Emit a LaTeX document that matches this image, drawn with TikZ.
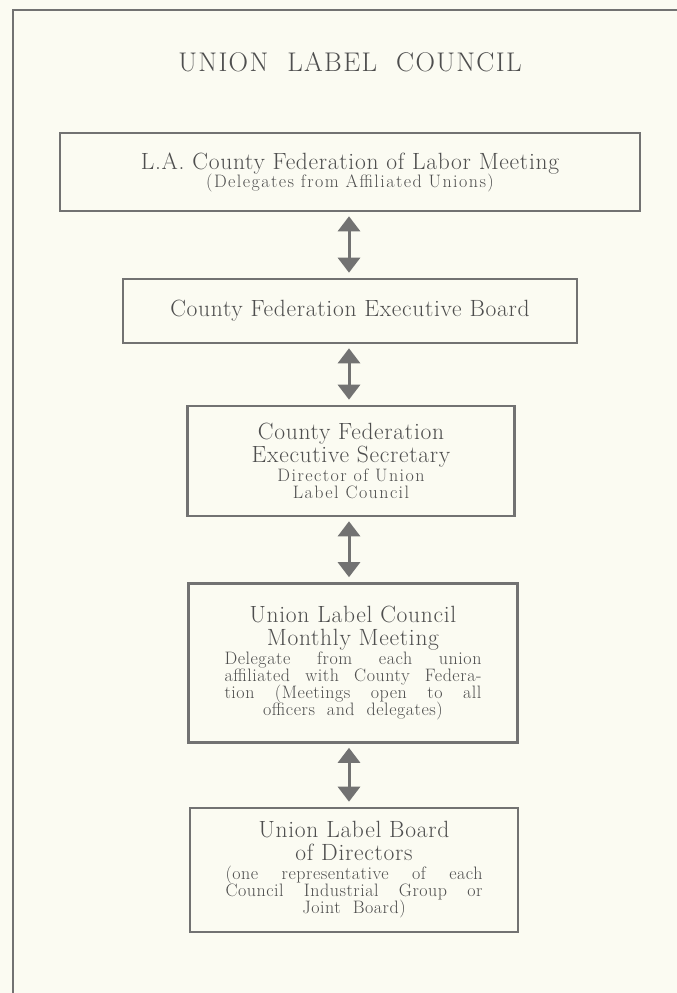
\documentclass[tikz,border=0pt]{standalone}
\usepackage{fontspec}
\setmainfont{Latin Modern Roman}
\usetikzlibrary{arrows.meta}
\definecolor{paper}{HTML}{FBFBF2}
\definecolor{linegray}{HTML}{727272}
\definecolor{inkgray}{HTML}{4E4E4E}
\newcommand{\bigline}{\fontsize{23.5}{23}\selectfont\addfontfeature{LetterSpace=3}}
\newcommand{\smallline}{\fontsize{18}{17}\selectfont\addfontfeature{LetterSpace=3}}
\newcommand{\smallwide}{\fontsize{18}{17}\selectfont\addfontfeature{LetterSpace=8}}
\newcommand{\fullline}[1]{\makebox[257pt][s]{#1}}
\begin{document}
\begin{tikzpicture}[x=1pt,y=-1pt]
            \tikzset{
                unitbox/.style={draw=linegray,line width=2.6pt,inner sep=0pt,align=center,text=inkgray,
                    font={\fontsize{16}{17}\selectfont\lineskiplimit=-40pt}},
                twoway/.style={linegray,line width=3pt,{Triangle[width=22pt,length=15pt]}-{Triangle[width=22pt,length=15pt]},
                    shorten <=4pt,shorten >=5pt},}
            \fill[paper] (0,0) rectangle (677,993);
            \useasboundingbox (0,0) rectangle (677,993);
            \draw[linegray,line width=2.6pt] (13,995) -- (13,10) -- (680,10);
            \node[text=inkgray,font={\fontsize{27}{28}\selectfont\addfontfeature{LetterSpace=5}}] (title) at (350,62) {UNION\ \ LABEL\ \ COUNCIL};
            % the five bodies, top to bottom
            \node[unitbox,minimum width=580pt,minimum height=78pt] (fedmeeting) at (350,172)
                {\bigline L.A. County Federation of Labor Meeting\\[1pt]
                 \smallwide (Delegates from Affiliated Unions)};
            \node[unitbox,minimum width=454pt,minimum height=64pt] (execboard) at (350,311)
                {\bigline County Federation Executive Board};
            \node[unitbox,minimum width=327pt,minimum height=110pt] (secretary) at (351,461)
                {\bigline County Federation\\[6pt]
                 \bigline Executive Secretary\\[2pt]
                 \smallwide Director of Union\\
                 \smallwide Label Council};
            \node[unitbox,minimum width=329pt,minimum height=159pt] (monthly) at (353,663)
                {\bigline Union Label Council\\[6pt]
                 \bigline Monthly Meeting\\[2pt]
                 \smallline\fullline{Delegate from each union}\\
                 \smallline\fullline{affiliated with County Federa-}\\
                 \smallline\fullline{tion (Meetings open to all}\\
                 \smallline officers\ \ and\ \ delegates)};
            \node[unitbox,minimum width=328pt,minimum height=124pt] (directors) at (354,870)
                {\bigline Union Label Board\\[6pt]
                 \bigline of Directors\\[2pt]
                 \smallline\fullline{(one representative of each}\\
                 \smallline\fullline{Council Industrial Group or}\\
                 \smallline Joint\ \ Board)};
            % links
            \draw[twoway] (fedmeeting.south -| 349,0) -- (execboard.north -| 349,0);
            \draw[twoway] (execboard.south -| 349,0) -- (secretary.north -| 349,0);
            \draw[twoway] (secretary.south -| 349,0) -- (monthly.north -| 349,0);
            \draw[twoway] (monthly.south -| 349,0) -- (directors.north -| 349,0);
        \end{tikzpicture}
\end{document}
